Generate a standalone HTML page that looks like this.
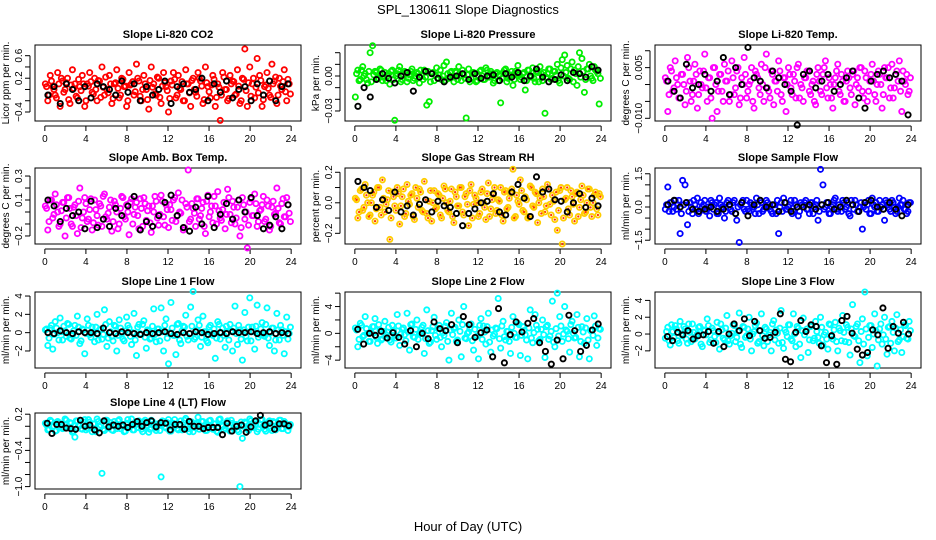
<!DOCTYPE html>
<html><head><meta charset="utf-8">
<style>
html,body{margin:0;padding:0;background:#fff;}
svg{display:block;font-family:"Liberation Sans",Arial,sans-serif;}
</style></head>
<body>
<svg id="chart" width="936" height="540" viewBox="0 0 936 540" xmlns="http://www.w3.org/2000/svg">
<rect width="936" height="540" fill="#fff"/>
<text x="468" y="14" text-anchor="middle" font-size="13">SPL_130611  Slope Diagnostics</text>
<text x="468" y="531" text-anchor="middle" font-size="13">Hour of Day (UTC)</text>
</svg>
<script>
// ---- data (values scaled by each panel's unit) ----
const co2Vals=[0.1,-0.2,0.25,0.05,-0.1,0.3,-0.3,0.15,0.0,0.2,-0.25,0.35,0.1,-0.15,0.05,0.25,-0.3,0.1,0.3,-0.05,0.2,-0.2,0.15,0.4,-0.1,0.0,0.25,-0.25,0.1,0.35,-0.15,0.2,0.05,-0.3,0.3,0.1,-0.1,0.45,0.15,-0.2,0.25,0.0,-0.35,0.4,0.1,-0.1,0.2,-0.25,0.3,0.05,-0.4,0.15,0.3,-0.15,0.25,0.0,-0.2,0.35,0.1,-0.3,0.2,-0.05,0.3,0.15,-0.25,0.4,0.05,-0.15,0.25,-0.3,0.1,-0.55,0.3,0.0,-0.2,0.25,0.15,-0.1,0.35,-0.25,0.2,0.72,-0.3,0.4,0.1,-0.15,0.55,0.25,-0.3,0.05,0.3,-0.1,0.45,0.15,-0.25,0.2,0.0,0.35,-0.2,0.1];
const co2Core=[0.05,-0.1,0.15,0.0,-0.15,0.1,0.2,-0.05,0.12,-0.18,0.08,0.02,-0.12,0.18,-0.02,0.1,-0.2,0.06,0.14,-0.08,0.0,0.16,-0.14,0.04,0.22,-0.06,0.1,-0.16,0.12,0.02,-0.1,0.18,0.06,-0.2,0.08,0.14,-0.04,0.2,-0.12,0.0,0.1,-0.18,0.16,0.04,-0.08,0.22,-0.14,0.06,0.12,-0.02,-0.16,0.08,0.18,-0.1,0.02,0.14,-0.2,0.1,-0.06,0.16,0.0,-0.12,0.2,0.06,-0.18,0.12,-0.04,0.08,0.18,-0.14,0.04,-0.1,0.22,0.0,-0.16,0.1,0.14,-0.08,0.06,-0.2,0.18,-0.02,0.12,-0.12,0.2,0.04,-0.06,0.16,-0.18,0.08,0.02,-0.14,0.1,0.22,-0.1,0.06,0.14,-0.04,0.18,-0.08];
const co2Black=[-0.1,0.05,-0.25,0.1,0.0,-0.2,0.05,-0.15,0.1,0.05,0.0,-0.1,0.15,-0.05,0.1,-0.2,0.05,-0.1,0.0,0.15,-0.25,0.05,0.1,-0.05,0.0,0.2,-0.2,0.1,-0.05,0.15,-0.15,0.0,0.05,-0.2,0.1,-0.1,0.15,-0.2,0.05,0.1];
const presVals=[-18,5,-3,8,2,-6,20,26,4,-2,6,-4,3,0,-7,5,-38,2,8,-3,4,-5,1,6,-2,3,-6,0,5,-25,-22,2,-4,7,1,-3,9,12,-2,4,-5,3,8,-4,1,-36,6,-2,3,-5,0,5,-3,7,-1,4,-6,2,-4,-23,3,6,-2,1,-8,4,9,-3,2,-12,5,-1,7,-5,3,8,-4,-32,2,6,-2,4,10,-6,14,18,9,-3,12,5,-8,20,15,-14,6,10,-2,8,4,-24];
const presCore=[2,-4,5,0,-3,4,-5,1,3,-2,5,-1,-4,2,4,-3,0,5,-5,1,3,-2,4,-4,0,2,5,-3,-1,4,-5,3,1,-2,5,0,-4,2,3,-1,4,-3,0,5,-2,1,-5,3,2,-4,4,0,-3,5,-1,2,-4,3,1,-2,5,-5,0,4,-3,2,1,-1,3,-4,5,0,-2,4,-5,2,3,-1,6,-3,4,1,-4,7,0,3,-2,6,-5,2,8,-1,4,-3,6,0,-4,5,2,-2];
const presBlack=[-26,-10,-18,-3,2,-2,-6,0,3,-13,-1,4,2,-2,-5,-1,0,2,-3,2,-2,0,1,-4,2,-1,3,-4,0,6,-1,-5,-3,1,-4,3,2,-1,8,5];
const tempVals=[2,-8,5,-2,7,0,-4,3,-6,8,1,-3,6,-7,4,-1,9,-5,2,-10,5,-8,3,-2,6,1,-5,7,-3,4,-6,2,8,-4,0,5,-7,3,-1,6,-5,9,-2,4,-6,1,7,-3,2,-8,5,-1,3,-4,6,0,-5,2,4,-3,1,-6,5,-2,3,7,-4,0,-7,2,6,-3,1,-5,4,-1,3,-6,2,5,-2,4,-5,1,6,-3,0,3,-7,5,2,-4,6,-1,4,7,-8,1,3,-2];
const tempCore=[1,-3,4,-1,2,-4,3,0,-2,5,-5,1,3,-3,0,4,-1,2,-4,5,0,-2,3,-5,1,4,-3,2,-1,5,-4,0,3,-2,1,-5,4,2,-3,0,5,-1,-4,3,1,-2,4,-5,2,0,3,-3,1,5,-4,-1,2,4,-2,0,-5,3,1,-3,5,-1,2,-4,0,4,-2,3,-5,1,2,-3,4,0,-1,5,-4,2,-2,3,1,-5,4,0,-3,2,5,-1,-4,3,1,-2,4,0,-3,2];
const tempBlack=[1,-2,-4,6,-1,0,3,-2,1,8,-3,5,0,11,2,1,-1,4,2,0,-2,-12,3,4,-1,1,3,-2,0,2,4,-4,-7,1,3,4,2,3,1,-9];
const ambVals=[5,-15,10,-5,15,0,-10,8,-20,12,3,-12,6,-18,20,-5,12,-8,2,-15,10,-3,7,-12,15,-6,4,-16,9,0,-10,13,-4,6,-19,11,-2,8,-14,3,12,-7,5,-17,0,9,-11,14,-4,6,-13,2,10,-8,16,-1,-15,7,35,-6,3,-12,11,-3,8,-18,14,0,-9,5,17,-5,2,-14,19,-2,9,-10,4,-20,12,-6,-30,8,-3,15,-12,1,6,-8,10,-15,4,-2,20,-9,7,-4,12,-1];
const ambCore=[3,-8,10,-2,6,-12,1,8,-5,12,-10,4,-3,9,-13,0,7,-6,11,-9,2,-11,5,13,-4,-1,10,-8,6,-14,3,12,-6,0,8,-10,4,-3,11,-12,7,1,-9,5,13,-5,-2,9,-11,2,6,-7,12,-3,0,10,-13,4,-8,7,-1,11,-6,3,-12,9,-4,5,13,-10,1,-7,8,-2,12,-9,4,-5,10,-13,6,0,-11,11,-3,7,-8,2,13,-6,5,-12,9,-1,3,-10,11,-4,6,-8];
const ambBlack=[10,5,-8,3,-3,0,-14,9,-13,-6,-12,3,-3,5,13,-15,-8,-12,-3,8,14,-3,-13,-16,4,-10,13,-13,-2,7,-6,10,0,12,-3,-14,-11,-4,-14,6];
const rhVals=[3,-10,8,-5,12,0,-8,5,-12,10,-3,15,-6,2,-24,7,-2,10,-14,4,-9,12,-1,6,-11,3,9,-5,14,-7,1,-12,8,-3,5,-10,11,0,-6,9,-13,4,-2,10,-8,6,-15,12,-1,3,-9,7,0,-11,13,-4,5,-7,2,10,-12,8,-3,6,22,-9,1,15,-5,4,-10,11,-2,7,-13,3,9,-6,12,-1,5,-11,-18,8,-27,2,10,-8,4,-12,7,-3,11,-7,0,9,-9,5,-4,6];
const rhCore=[2,-6,9,-3,5,-9,0,7,-4,10,-8,3,-1,8,-10,4,-5,6,-2,9,-7,1,5,-9,10,-3,7,-6,2,-10,8,0,-4,6,-8,3,9,-5,1,-9,7,-2,10,-6,4,-1,8,-10,5,0,-7,9,-3,6,-9,2,10,-5,1,-8,7,-4,3,9,-10,5,-1,8,-6,2,-9,10,-3,6,0,-7,4,-2,9,-8,1,7,-5,10,-10,3,-4,8,-1,6,-9,2,5,-6,9,-3,0,7,-8,4];
const rhBlack=[14,10,8,-3,2,-5,7,-6,-2,-8,-1,2,-6,1,-2,-3,-7,-15,-7,-4,0,1,6,-6,-8,7,12,3,-9,17,7,9,2,1,-6,0,6,-3,3,-2];
const sflowVals=[-1,9,2,-2,3,1,-12,12,10,-8,2,-3,1,4,-2,0,3,-1,-4,2,1,-3,4,0,-5,2,1,-2,3,-6,-16,2,-1,3,-2,1,0,4,-3,2,-1,3,0,-2,1,-3,-12,2,4,-1,0,3,-2,1,-4,2,0,3,-1,2,-3,1,-6,17,10,0,2,-3,1,4,-2,0,3,-1,2,-4,1,3,-2,0,-10,2,1,-3,4,0,-2,3,1,-6,2,-1,3,0,-2,4,1,-1,-3,2];
const sflowCore=[1,-2,2,0,-1,3,-3,1,2,-2,0,3,-1,-3,2,1,-2,0,3,-1,2,-3,1,0,-2,3,-1,2,-3,0,1,3,-2,-1,2,0,-3,1,3,-2,0,2,-1,-3,1,3,0,-2,2,-1,1,-3,3,0,-2,1,2,-1,-3,2,0,3,-2,1,-1,2,-3,0,3,-1,1,-2,2,0,-3,3,-1,1,-2,2,0,-1,3,-3,1,2,-2,0,-1,3,1,-2,2,-3,0,1,3,-1,-2,2];
const sflowBlack=[1,3,0,2,-1,-2,-1,0,-2,-1,1,-3,2,-4,1,3,0,1,-2,2,-2,0,0,1,-1,1,2,-1,0,3,1,-2,2,3,0,-1,2,-1,-4,1];
const l1Vals=[3,-14,5,-18,12,0,16,-8,2,10,-6,-3,8,18,-12,4,-23,15,-2,6,-10,20,3,-7,25,-15,12,-4,8,-20,14,-1,-9,17,5,-13,21,-25,9,-2,13,-17,2,-6,26,-10,4,27,-20,15,-34,33,-3,-24,10,-12,7,19,-8,28,45,-5,14,-15,18,1,-11,8,-3,-28,12,-7,5,-16,0,9,-20,29,-13,3,-30,22,-9,38,6,-18,30,-2,11,-4,27,-14,5,-20,21,-8,3,-23,17,-1];
const l1Core=[4,-6,8,-2,5,-8,1,7,-4,9,-7,2,-3,6,-9,3,-1,8,-5,0,6,-8,4,-2,9,-6,1,-9,7,-3,5,-7,2,8,-4,0,-8,6,-1,9,-5,3,-7,7,-2,4,-9,1,8,-6,0,5,-3,9,-8,2,6,-4,-1,7,-7,3,8,-5,1,-9,6,-2,4,-6,9,0,-3,7,-8,2,5,-1,8,-7,3,-4,6,-9,1,7,-5,4,-2,9,-6,0,5,-8,3,8,-3,1,-7,6];
const l1Black=[0,-1,2,0,-1,1,0,0,-1,5,0,-1,1,0,-1,-2,0,-1,0,1,-1,-2,0,-1,1,0,-2,-1,0,-1,1,0,0,1,-1,0,1,-1,0,-1];
const l2Vals=[8,-20,15,-5,25,0,-12,10,22,-15,5,-8,18,2,-10,12,-3,28,-18,6,-2,30,-25,14,-6,20,-1,9,-30,35,-15,4,24,-9,12,-20,-3,16,-40,30,7,-12,20,-35,40,-8,2,14,-25,-5,-38,22,11,-16,30,-28,-4,8,52,-22,18,-10,3,-30,25,-6,15,-33,10,-2,-38,35,-14,28,6,-9,20,-36,12,-4,48,-20,60,25,-12,40,3,-28,18,-7,28,-35,10,-15,22,-38,5,26,-18,7];
const l2Core=[5,-9,12,-3,7,-12,1,10,-6,13,-10,3,-2,9,-13,4,-7,11,-1,8,-11,2,13,-5,6,-9,0,12,-8,4,-13,10,-3,7,-6,1,11,-12,5,-2,9,-10,3,13,-7,0,8,-11,6,-4,12,-9,2,10,-13,5,-1,7,-8,11,-5,3,-12,9,0,-6,13,-3,4,-10,8,-7,1,12,-11,6,-2,10,-9,3,-13,7,-4,11,-1,5,-8,13,0,-6,9,-12,2,8,-10,4,-3,11,-7,6];
const l2Black=[6,-16,0,-3,3,-7,1,-6,-16,4,-20,0,-8,17,7,4,13,-14,25,13,-6,1,5,-35,37,-44,-2,17,2,15,22,-14,-27,-46,-10,-38,27,4,-27,-18,5,14];
const l3Vals=[-5,8,-13,3,10,-8,15,-2,6,-11,2,12,-6,0,9,-15,4,18,-10,7,-3,14,-18,5,-7,22,-12,1,10,-4,25,-16,8,-2,20,-20,3,13,-9,24,-14,6,-1,-20,16,5,-11,28,-17,2,11,-6,24,-15,7,-28,19,3,-22,9,-8,15,-4,20,-13,2,-18,11,-6,14,-20,4,22,-9,8,-25,35,-3,12,-34,18,50,-26,10,-16,24,-38,6,-12,20,-24,9,15,-20,23,-7,-22,11,-5,15];
const l3Core=[3,-8,11,-4,6,-11,0,9,-6,12,-9,2,-3,8,-12,5,-1,10,-7,4,-10,1,12,-5,7,-8,-2,11,-9,3,-12,9,-4,6,-6,0,10,-11,4,-2,8,-9,2,12,-7,1,7,-10,5,-3,11,-8,0,9,-12,4,-1,6,-7,10,-5,3,-11,8,-1,-6,12,-3,5,-9,7,-8,2,11,-10,6,-2,9,-8,3,-12,6,-4,10,0,4,-7,12,-1,-6,8,-11,2,7,-9,5,-3,10,-6,4];
const l3Black=[-3,-8,2,-1,4,-6,-2,-1,3,-11,3,-15,0,12,4,18,-2,15,4,-5,-4,2,24,-30,-33,2,16,3,11,9,-14,-34,-2,-36,16,21,1,-18,-25,-22,5,-1,31,-17,9,1,14,0];
const l4Vals=[5,-6,10,0,-8,8,3,-4,12,-2,6,-10,-18,9,1,-5,11,-3,7,-9,4,12,-1,-78,-7,10,2,-6,8,-4,11,0,-9,5,-2,12,-6,3,9,-5,7,-1,-10,10,4,-7,2,-84,8,-3,11,-8,5,1,-6,9,-2,13,-4,6,-9,3,15,-1,8,-7,2,10,-5,4,-10,12,0,-3,9,-8,5,1,-6,-100,-20,7,-4,12,-2,8,-9,4,11,-5,2,9,-7,6,0,10,-4,8,3,-1];
const l4Core=[2,-5,8,0,-7,6,3,-3,10,-1,5,-8,9,1,-4,7,-6,11,-2,4,-9,8,2,-5,10,-3,6,-7,1,9,-4,3,-8,11,0,-6,7,-2,5,-9,10,1,-5,8,-3,4,-7,9,-1,6,-8,2,11,-4,3,-6,10,0,-9,7,-2,5,-5,8,1,-7,9,-3,4,-8,11,2,-6,6,-1,10,-4,3,-9,7,0,5,-7,9,-2,4,-5,11,1,-8,6,-3,8,-6,2,10,-4,5,-7,3];
const l4Black=[5,-12,3,3,-3,-4,-5,10,0,2,-6,-11,9,-1,2,0,2,-2,3,8,0,6,9,-1,6,5,-6,3,3,-5,8,0,0,-4,-2,-2,-2,-14,5,-8,0,2,-10,-1,9,18,2,5,-5,4,4,1];
// ---- axis tick values ----
const xTicks=[0,4,8,12,16,20,24];
const co2Ticks=[-0.4,-0.2,0,0.2,0.4,0.6]; const co2Labels=["-0.4","","","0.2","","0.6"];
const presTicks=[-0.03,-0.02,-0.01,0,0.01,0.02]; const presLabels=["-0.03","","","0.00","",""];
const tempTicks=[-0.01,-0.005,0,0.005,0.01]; const tempLabels=["-0.010","","","0.005",""];
const ambTicks=[-0.2,-0.1,0,0.1,0.2,0.3]; const ambLabels=["-0.2","","","0.1","","0.3"];
const rhTicks=[-0.2,-0.1,0,0.1,0.2]; const rhLabels=["-0.2","","0.0","","0.2"];
const sflowTicks=[-1.5,-1,-0.5,0,0.5,1,1.5]; const sflowLabels=["-1.5","","","0.0","","","1.5"];
const l1Ticks=[-2,0,2,4]; const l1Labels=["-2","0","2","4"];
const l2Ticks=[-4,-2,0,2,4,6]; const l2Labels=["-4","","0","","4",""];
const l3Ticks=[-2,0,2,4]; const l3Labels=["-2","0","2","4"];
const l4Ticks=[-1.0,-0.8,-0.6,-0.4,-0.2,0,0.2]; const l4Labels=["-1.0","","","-0.4","","","0.2"];

const panels=[
 {name:"co2",title:"Slope Li-820 CO2",ylab:"Licor ppm per min.",col:0,row:0,ymin:-0.56,ymax:0.79,unit:1,vals:co2Vals,core:co2Core,blk:co2Black,ticks:co2Ticks,labels:co2Labels,color:"#ff0000"},
 {name:"pressure",title:"Slope Li-820 Pressure",ylab:"kPa per min.",col:1,row:0,ymin:-0.0386,ymax:0.0266,unit:0.001,vals:presVals,core:presCore,blk:presBlack,ticks:presTicks,labels:presLabels,color:"#00ee00"},
 {name:"temp",title:"Slope Li-820 Temp.",ylab:"degrees C per min.",col:2,row:0,ymin:-0.0108,ymax:0.0117,unit:0.001,vals:tempVals,core:tempCore,blk:tempBlack,ticks:tempTicks,labels:tempLabels,color:"#ff00ff"},
 {name:"amb-box-temp",title:"Slope Amb. Box Temp.",ylab:"degrees C per min.",col:0,row:1,ymin:-0.267,ymax:0.367,unit:0.01,vals:ambVals,core:ambCore,blk:ambBlack,ticks:ambTicks,labels:ambLabels,color:"#ff00ff"},
 {name:"gas-stream-rh",title:"Slope Gas Stream RH",ylab:"percent per min.",col:1,row:1,ymin:-0.27,ymax:0.228,unit:0.01,vals:rhVals,core:rhCore,blk:rhBlack,ticks:rhTicks,labels:rhLabels,color:"#ffcc00",dot:"#ff3300"},
 {name:"sample-flow",title:"Slope Sample Flow",ylab:"ml/min per min.",col:2,row:1,ymin:-1.67,ymax:1.76,unit:0.1,vals:sflowVals,core:sflowCore,blk:sflowBlack,ticks:sflowTicks,labels:sflowLabels,color:"#0000ff"},
 {name:"line1-flow",title:"Slope Line 1 Flow",ylab:"ml/min per min.",col:0,row:2,ymin:-3.86,ymax:4.44,unit:0.1,vals:l1Vals,core:l1Core,blk:l1Black,ticks:l1Ticks,labels:l1Labels,color:"#00ffff"},
 {name:"line2-flow",title:"Slope Line 2 Flow",ylab:"ml/min per min.",col:1,row:2,ymin:-5.17,ymax:6.17,unit:0.1,vals:l2Vals,core:l2Core,blk:l2Black,ticks:l2Ticks,labels:l2Labels,color:"#00ffff"},
 {name:"line3-flow",title:"Slope Line 3 Flow",ylab:"ml/min per min.",col:2,row:2,ymin:-4.04,ymax:5.0,unit:0.1,vals:l3Vals,core:l3Core,blk:l3Black,ticks:l3Ticks,labels:l3Labels,color:"#00ffff"},
 {name:"line4-flow",title:"Slope Line 4 (LT) Flow",ylab:"ml/min per min.",col:0,row:3,ymin:-1.04,ymax:0.22,unit:0.01,vals:l4Vals,core:l4Core,blk:l4Black,ticks:l4Ticks,labels:l4Labels,color:"#00ffff"}
];
const colX=[35,345,655], rowY=[45,168,292,413], W=266, H=76;
const NS="http://www.w3.org/2000/svg";
const svg=document.getElementById('chart');
function mk(tag,attrs,parent){const e=document.createElementNS(NS,tag);for(const k in attrs)e.setAttribute(k,attrs[k]);(parent||svg).appendChild(e);return e;}

panels.forEach(p=>{
  const L=colX[p.col],T=rowY[p.row],B=T+H,R=L+W;
  const g=mk('g',{});
  
  
  const xs=h=>L+(h+0.96)/25.92*W;
  const ys=v=>B-(v-p.ymin)/(p.ymax-p.ymin)*H;
  const t=mk('text',{x:(L+R)/2,y:T-7,'text-anchor':'middle','font-size':'11','font-weight':'bold'},g);
  t.textContent=p.title;
  
  
  const yl=mk('text',{x:0,y:0,'text-anchor':'middle','font-size':'10',transform:`translate(${L-26},${(T+B)/2}) rotate(-90)`},g);
  yl.textContent=p.ylab;
  
  
  mk('line',{x1:xs(0),x2:xs(24),y1:B+5,y2:B+5,stroke:'#000','stroke-width':1},g);
  xTicks.forEach(h=>{
    mk('line',{x1:xs(h),x2:xs(h),y1:B+5,y2:B+10,stroke:'#000','stroke-width':1},g);
    const tx=mk('text',{x:xs(h),y:B+21,'text-anchor':'middle','font-size':'10'},g);
    tx.textContent=h;
    
    
  });
  const y0=ys(p.ticks[0]),y1=ys(p.ticks[p.ticks.length-1]);
  mk('line',{x1:L-5,x2:L-5,y1:y0,y2:y1,stroke:'#000','stroke-width':1},g);
  p.ticks.forEach((v,i)=>{
    const yy=ys(v);
    mk('line',{x1:L-10,x2:L-5,y1:yy,y2:yy,stroke:'#000','stroke-width':1},g);
    if(p.labels[i]){
      const ty=mk('text',{x:0,y:0,'text-anchor':'middle','font-size':'10',transform:`translate(${L-13},${yy}) rotate(-90)`},g);
      ty.textContent=p.labels[i].replace('-','\u2212');
      
      
    }
  });
  mk('rect',{x:L,y:T,width:W,height:H,fill:'none',stroke:'#000','stroke-width':1},g);
  function drawSeries(arr,offset){
    const n=arr.length;
    arr.forEach((v,i)=>{
      const cx=xs((i+offset)*24/n), cy=ys(v*p.unit);
      const c=mk('circle',{cx:cx,cy:cy,r:2.6,fill:'none',stroke:p.color,'stroke-width':1.8},g);
      
      
      if(p.dot){mk('circle',{cx:cx,cy:cy,r:1.1,fill:p.dot},g);}
    });
  }
  drawSeries(p.vals,0.2);
  drawSeries(p.core,0.7);
  const nb=p.blk.length;
  p.blk.forEach((v,i)=>{
    const c=mk('circle',{cx:xs((i+0.5)*24/nb),cy:ys(v*p.unit),r:2.6,fill:'none',stroke:'#000','stroke-width':1.9},g);
    
    
  });
});
</script>
</body></html>
